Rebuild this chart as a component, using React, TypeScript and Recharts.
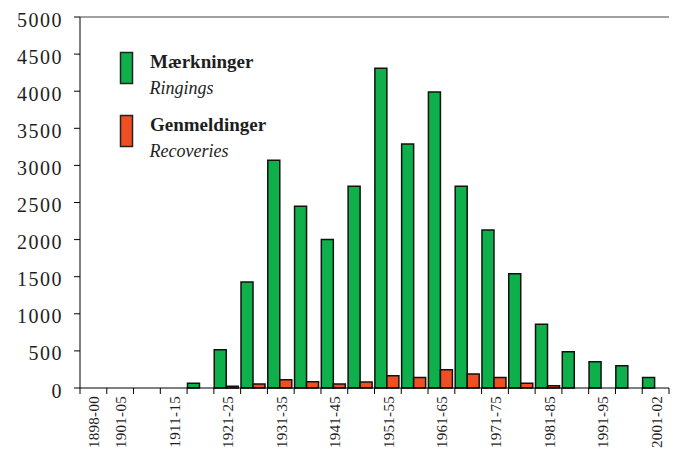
import { BarChart, Bar, XAxis, YAxis, ReferenceLine, Legend, Rectangle } from "recharts";

const PERIODS = [
  "1898-00", "1901-05", "1906-10", "1911-15", "1916-20", "1921-25", "1926-30", "1931-35",
  "1936-40", "1941-45", "1946-50", "1951-55", "1956-60", "1961-65", "1966-70", "1971-75",
  "1976-80", "1981-85", "1986-90", "1991-95", "1996-00", "2001-02",
];
const RINGINGS = [0, 0, 0, 0, 65, 515, 1430, 3070, 2450, 2000, 2720, 4310, 3290, 3990, 2720, 2130, 1540, 860, 490, 355, 300, 140];
const RECOVERIES = [0, 0, 0, 0, 0, 25, 55, 110, 85, 55, 80, 165, 140, 245, 190, 140, 65, 30, 0, 0, 0, 0];
const SHOWN_LABELS = ["1898-00", "1901-05", "1911-15", "1921-25", "1931-35", "1941-45", "1951-55", "1961-65", "1971-75", "1981-85", "1991-95", "2001-02"];
const Y_TICKS = [0, 500, 1000, 1500, 2000, 2500, 3000, 3500, 4000, 4500, 5000];
const SERIES_NAMES = ["Mærkninger", "Genmeldinger"];
const SUBTITLES: Record<string, string> = { "Mærkninger": "Ringings", "Genmeldinger": "Recoveries" };

const W = 673;
const H = 451;
const MARGIN = { top: 17, right: 4, left: 0, bottom: 0 };
const Y_W = 80;
const FONT = "'Liberation Serif', 'Times New Roman', serif";
const INK = "#1e1e1e";
const GREEN = "#0db04b";
const RED = "#f04e23";

const data = PERIODS.map((period, i) => ({
  period,
  ringings: RINGINGS[i],
  recoveries: RECOVERIES[i],
}));

const HALF_BAND = (W - Y_W - MARGIN.left - MARGIN.right) / PERIODS.length / 2;

function PeriodTick(props: any) {
  const { x, y, payload, index } = props;
  const half = payload?.offset || HALF_BAND;
  const label = payload?.value as string;
  return (
    <g>
      <line x1={x - half} y1={y} x2={x - half} y2={y + 6} stroke="#000" strokeWidth={1} />
      {index === PERIODS.length - 1 && (
        <line x1={x + half} y1={y} x2={x + half} y2={y + 6} stroke="#000" strokeWidth={1} />
      )}
      {SHOWN_LABELS.includes(label) && (
        <text
          x={0}
          y={0}
          transform={`translate(${x + 6},${y + 8}) rotate(-90)`}
          textAnchor="end"
          fill={INK}
          fontSize={15}
          letterSpacing={0.3}
          fontFamily={FONT}
        >
          {label}
        </text>
      )}
    </g>
  );
}

function ValueTick(props: any) {
  const { x, y, payload } = props;
  return (
    <text x={x} y={y} dy={9.5} textAnchor="end" fill={INK} fontSize={20} letterSpacing={1.5} fontFamily={FONT}>
      {payload.value}
    </text>
  );
}

function LegendBox(props: any) {
  const items = [...(props.payload ?? [])].sort(
    (a: any, b: any) => SERIES_NAMES.indexOf(a.value) - SERIES_NAMES.indexOf(b.value)
  );
  return (
    <svg width={300} height={170} style={{ display: "block" }}>
      {items.map((item: any, i: number) => {
        const top = 52 + i * 63;
        return (
          <g key={item.value}>
            <rect x={120.5} y={top + 0.5} width={12} height={31} fill={item.color} stroke="#222" strokeWidth={1.5} />
            <text x={150} y={top + 16} fill={INK} fontSize={19} fontWeight="bold" fontFamily={FONT}>
              {item.value}
            </text>
            <text x={149.5} y={top + 42} fill={INK} fontSize={18} fontStyle="italic" fontFamily={FONT}>
              {SUBTITLES[item.value]}
            </text>
          </g>
        );
      })}
    </svg>
  );
}

const shiftedBar = (p: any) => <Rectangle {...p} x={p.x - 1.5} />;

export default function App() {
  return (
    <div style={{ position: "absolute", left: 0, top: 0, width: W, height: H, background: "#fff" }}>
      <BarChart width={W} height={H} data={data} margin={MARGIN} barCategoryGap="7%" barGap={0}>
        <XAxis
          dataKey="period"
          interval={0}
          height={H - 388 - MARGIN.bottom}
          tickLine={false}
          tickSize={0}
          tickMargin={0}
          axisLine={{ stroke: "#000", strokeWidth: 1 }}
          tick={<PeriodTick />}
        />
        <YAxis
          width={Y_W}
          domain={[0, 5000]}
          ticks={Y_TICKS}
          interval={0}
          tickSize={6}
          tickMargin={11}
          axisLine={{ stroke: "#000", strokeWidth: 1 }}
          tickLine={{ stroke: "#000", strokeWidth: 1 }}
          tick={<ValueTick />}
        />
        <YAxis
          yAxisId="frame"
          orientation="right"
          width={0}
          type="number"
          domain={[0, 5000]}
          tick={false}
          tickLine={false}
          axisLine={{ stroke: "#444", strokeWidth: 1 }}
        />
        <ReferenceLine y={5000} stroke="#444" strokeWidth={1} />
        <Legend
          layout="vertical"
          align="center"
          verticalAlign="middle"
          wrapperStyle={{ left: 0, top: 0, width: 300, height: 170 }}
          content={<LegendBox />}
        />
        <Bar dataKey="ringings" name="Mærkninger" fill={GREEN} stroke="#111" strokeWidth={1.5} shape={shiftedBar} isAnimationActive={false} />
        <Bar dataKey="recoveries" name="Genmeldinger" fill={RED} stroke="#111" strokeWidth={1.5} shape={shiftedBar} isAnimationActive={false} />
      </BarChart>
    </div>
  );
}
